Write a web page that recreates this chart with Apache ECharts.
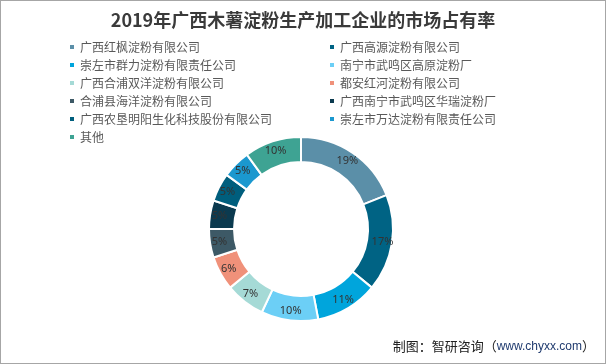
<!DOCTYPE html>
<html><head><meta charset="utf-8">
<script src="https://cdn.jsdelivr.net/npm/echarts@6/dist/echarts.min.js"></script>
<style>html,body{margin:0;padding:0;background:#fff}#c{width:606px;height:364px;box-sizing:border-box;border:1px solid #a6a6a6}</style>
</head><body><div id="c"></div>
<script>
const titleText = '2019年广西木薯淀粉生产加工企业的市场占有率';
const companies = ['广西红枫淀粉有限公司','广西高源淀粉有限公司','崇左市群力淀粉有限责任公司','南宁市武鸣区高原淀粉厂','广西合浦双洋淀粉有限公司','都安红河淀粉有限公司','合浦县海洋淀粉有限公司','广西南宁市武鸣区华瑞淀粉厂','广西农垦明阳生化科技股份有限公司','崇左市万达淀粉有限责任公司','其他'];
const shares = [19,17,11,10,7,6,5,5,5,5,10];
const colors = ['#5b8fa8','#006384','#00a5dc','#6ccff6','#a5dad6','#f0917a','#3d5966','#0b3a4f','#005e7d','#1b98cf','#3ea393'];
const footerText = '制图：智研咨询（';
const footerUrl = 'www.chyxx.com';

const leftNames = companies.filter((_, i) => i % 2 === 0);
const rightNames = companies.filter((_, i) => i % 2 === 1);
const chart = echarts.init(document.getElementById('c'));
const legendCommon = {
  orient: 'vertical', icon: 'rect', itemWidth: 6, itemHeight: 6, itemGap: 6, padding: 0,
  textStyle: { fontSize: 12, color: '#595959', fontFamily: 'Noto Sans CJK SC', lineHeight: 12 },
  selectedMode: false
};
chart.setOption({
  animation: false,
  color: colors,
  title: {
    text: titleText, left: 'center', top: 5,
    textStyle: { fontSize: 18, fontWeight: 'bold', color: '#3a3a3a', fontFamily: 'Noto Sans CJK SC' }
  },
  legend: [
    Object.assign({ left: 67, top: 40, data: leftNames }, legendCommon),
    Object.assign({ left: 327, top: 40, data: rightNames }, legendCommon)
  ],
  graphic: [{
    type: 'text', right: 10, top: 339,
    style: {
      text: '{a|' + footerText + '}{b|' + footerUrl + '}{a|）}',
      rich: {
        a: { fontSize: 13, fill: '#222', fontFamily: 'Noto Sans CJK SC' },
        b: { fontSize: 12, fill: '#1f3a6e', fontFamily: 'Arial' }
      }
    }
  }],
  series: [{
    type: 'pie', center: [300, 228], radius: [67, 92], startAngle: 90, clockwise: true,
    itemStyle: { borderColor: '#fff', borderWidth: 2 },
    label: { position: 'inside', formatter: '{c}%', fontSize: 11, color: '#333', fontFamily: 'Noto Sans' },
    labelLine: { show: false },
    emphasis: { disabled: true },
    data: companies.map((n, i) => ({ name: n, value: shares[i] }))
  }]
});
</script></body></html>
